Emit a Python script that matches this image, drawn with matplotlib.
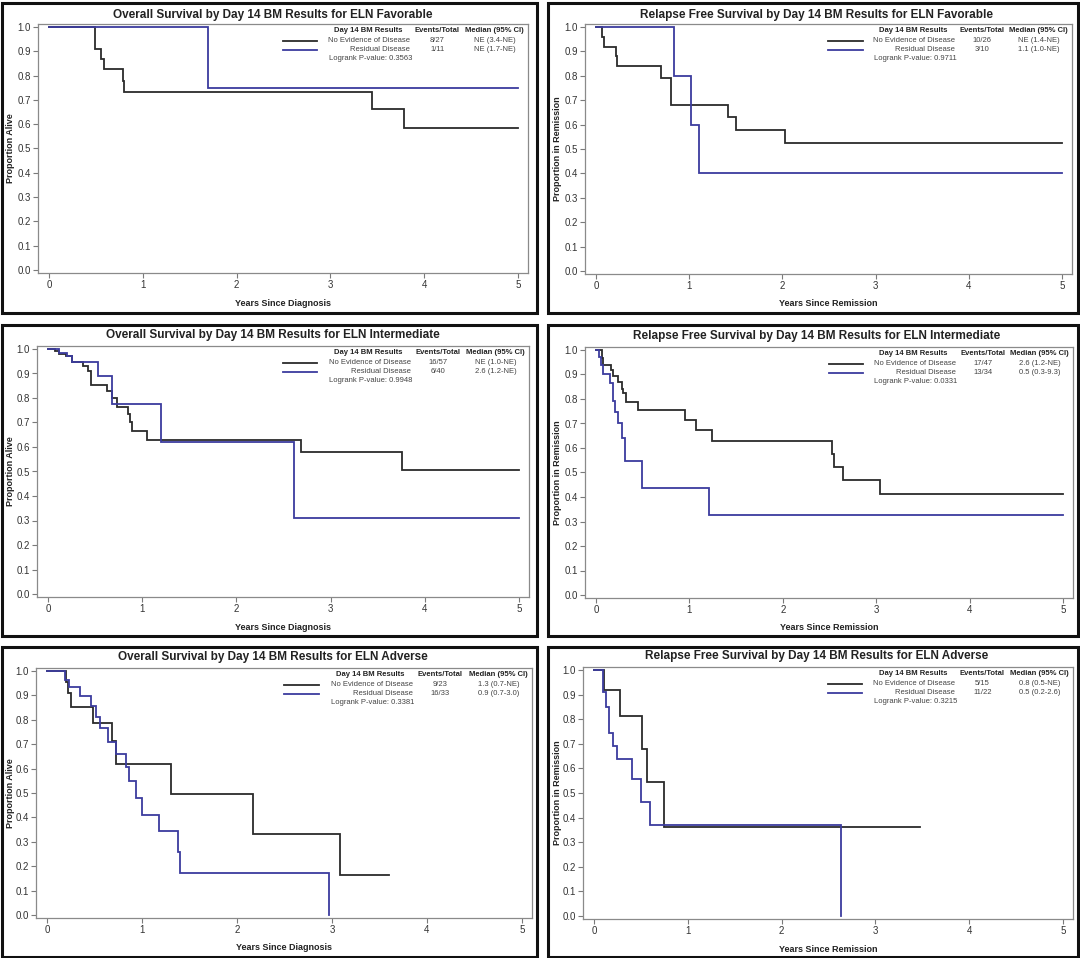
import matplotlib
matplotlib.use('Agg')
import matplotlib.pyplot as plt
from matplotlib.patches import Rectangle

plt.rcParams['font.family'] = ['Liberation Sans', 'DejaVu Sans']

W, H = 1080, 958

# ---- data (times in years, survival proportion) ----
titles = [
    'Overall Survival by Day 14 BM Results for ELN Favorable',
    'Relapse Free Survival by Day 14 BM Results for ELN Favorable',
    'Overall Survival by Day 14 BM Results for ELN Intermediate',
    'Relapse Free Survival by Day 14 BM Results for ELN Intermediate',
    'Overall Survival by Day 14 BM Results for ELN Adverse',
    'Relapse Free Survival by Day 14 BM Results for ELN Adverse',
]
xlabels = ['Years Since Diagnosis', 'Years Since Remission'] * 3
ylabels = ['Proportion Alive', 'Proportion in Remission'] * 3
groups = ['No Evidence of Disease', 'Residual Disease']
events = [['8/27', '1/11'], ['10/26', '3/10'], ['16/57', '6/40'],
          ['17/47', '13/34'], ['9/23', '16/33'], ['5/15', '11/22']]
medians = [['NE (3.4-NE)', 'NE (1.7-NE)'], ['NE (1.4-NE)', '1.1 (1.0-NE)'],
           ['NE (1.0-NE)', '2.6 (1.2-NE)'], ['2.6 (1.2-NE)', '0.5 (0.3-9.3)'],
           ['1.3 (0.7-NE)', '0.9 (0.7-3.0)'], ['0.8 (0.5-NE)', '0.5 (0.2-2.6)']]
pvalues = ['0.3563', '0.9711', '0.9948', '0.0331', '0.3381', '0.3215']

# OS favorable
os_fav_ned_t = [0, 0.49, 0.555, 0.586, 0.79, 0.80, 3.44, 3.78, 5.0]
os_fav_ned_s = [1, 0.911, 0.867, 0.826, 0.779, 0.734, 0.661, 0.586, 0.586]
os_fav_rd_t = [0, 1.69, 5.0]
os_fav_rd_s = [1, 0.75, 0.75]
# RFS favorable
rfs_fav_ned_t = [0, 0.06, 0.086, 0.21, 0.23, 0.70, 0.80, 1.42, 1.50, 2.03, 5.0]
rfs_fav_ned_s = [1, 0.96, 0.92, 0.88, 0.84, 0.79, 0.68, 0.63, 0.577, 0.524, 0.524]
rfs_fav_rd_t = [0, 0.84, 1.02, 1.10, 5.0]
rfs_fav_rd_s = [1, 0.80, 0.60, 0.40, 0.40]
# OS intermediate
os_int_ned_t = [0, 0.07, 0.12, 0.19, 0.25, 0.37, 0.42, 0.46, 0.63, 0.68, 0.73,
                0.85, 0.87, 0.89, 1.05, 2.69, 3.76, 5.0]
os_int_ned_s = [1, 0.99, 0.98, 0.97, 0.945, 0.93, 0.91, 0.855, 0.83, 0.80, 0.765,
                0.735, 0.70, 0.665, 0.63, 0.578, 0.506, 0.506]
os_int_rd_t = [0, 0.12, 0.20, 0.25, 0.53, 0.68, 1.20, 2.61, 5.0]
os_int_rd_s = [1, 0.985, 0.97, 0.945, 0.888, 0.775, 0.622, 0.311, 0.311]
# RFS intermediate
rfs_int_ned_t = [0, 0.06, 0.08, 0.157, 0.186, 0.24, 0.275, 0.29, 0.317, 0.45,
                 0.95, 1.07, 1.24, 2.525, 2.55, 2.64, 3.04, 5.0]
rfs_int_ned_s = [1, 0.966, 0.939, 0.918, 0.894, 0.87, 0.84, 0.823, 0.789, 0.755,
                 0.714, 0.673, 0.627, 0.575, 0.524, 0.469, 0.412, 0.412]
rfs_int_rd_t = [0, 0.03, 0.05, 0.07, 0.15, 0.18, 0.20, 0.24, 0.28, 0.31, 0.49, 1.21, 5.0]
rfs_int_rd_s = [1, 0.97, 0.94, 0.90, 0.865, 0.79, 0.745, 0.70, 0.64, 0.547, 0.437, 0.327, 0.327]
# OS adverse
os_adv_ned_t = [0, 0.20, 0.22, 0.25, 0.48, 0.68, 0.725, 1.307, 2.17, 3.08, 3.6]
os_adv_ned_s = [1, 0.953, 0.909, 0.853, 0.787, 0.715, 0.62, 0.497, 0.331, 0.165, 0.165]
os_adv_rd_t = [0, 0.19, 0.23, 0.35, 0.46, 0.52, 0.56, 0.64, 0.73, 0.83, 0.86,
               0.94, 1.0, 1.18, 1.375, 1.40, 2.97]
os_adv_rd_s = [1, 0.965, 0.933, 0.897, 0.856, 0.81, 0.765, 0.71, 0.66, 0.605, 0.55,
               0.48, 0.41, 0.345, 0.26, 0.173, 0.0]
# RFS adverse
rfs_adv_ned_t = [0, 0.108, 0.28, 0.51, 0.56, 0.75, 3.48]
rfs_adv_ned_s = [1, 0.917, 0.815, 0.678, 0.543, 0.362, 0.362]
rfs_adv_rd_t = [0, 0.10, 0.13, 0.16, 0.20, 0.24, 0.41, 0.50, 0.60, 2.63]
rfs_adv_rd_s = [1, 0.91, 0.85, 0.745, 0.69, 0.637, 0.555, 0.465, 0.37, 0.0]

curves = [
    ((os_fav_ned_t, os_fav_ned_s), (os_fav_rd_t, os_fav_rd_s)),
    ((rfs_fav_ned_t, rfs_fav_ned_s), (rfs_fav_rd_t, rfs_fav_rd_s)),
    ((os_int_ned_t, os_int_ned_s), (os_int_rd_t, os_int_rd_s)),
    ((rfs_int_ned_t, rfs_int_ned_s), (rfs_int_rd_t, rfs_int_rd_s)),
    ((os_adv_ned_t, os_adv_ned_s), (os_adv_rd_t, os_adv_rd_s)),
    ((rfs_adv_ned_t, rfs_adv_ned_s), (rfs_adv_rd_t, rfs_adv_rd_s)),
]

colors = ['#2b2b2b', '#3c3c9e']

# ---- layout in pixels ----
# (x of tick 0, x of tick 5, y of 1.0, y of 0.0)
tickpx = [(49, 518, 27, 270), (596, 1062, 27, 271),
          (48, 519, 349, 594), (596, 1063, 350, 595),
          (47, 522, 671, 915), (594, 1063, 670, 916)]
boxes = [(2, 3, 537, 313), (548, 3, 1078, 313),
         (2, 325, 537, 636), (548, 325, 1078, 636),
         (2, 647, 537, 957), (548, 647, 1078, 957)]
title_y = [15, 15, 335, 336, 657, 656]
xlab_y = [303, 304, 627, 628, 948, 950]
ylab_x = [10.5, 557, 10.5, 557, 10.5, 557]

fig = plt.figure(figsize=(W / 100, H / 100), dpi=100)

for i in range(6):
    x0, x5, y1, y0 = tickpx[i]
    ux = (x5 - x0) / 5.0
    uy = (y0 - y1)
    left = x0 - 0.12 * ux
    right = x5 + 0.11 * ux
    top = y1 - 0.012 * uy
    bottom = y0 + 0.012 * uy
    ax = fig.add_axes([left / W, 1 - bottom / H, (right - left) / W, (bottom - top) / H])
    ax.set_xlim(-0.12, 5.11)
    ax.set_ylim(-0.012, 1.012)

    for (t, s), c in zip(curves[i], colors):
        ax.step(t, s, where='post', color=c, lw=1.3, solid_joinstyle='miter')

    ax.set_xticks(range(6))
    ax.set_yticks([k / 10 for k in range(11)])
    ax.set_yticklabels(['%.1f' % (k / 10) for k in range(11)])
    ax.tick_params(labelsize=7, length=3.5, width=0.8, color='#7a7a7a',
                   labelcolor='#333333', pad=1.5)
    for sp in ax.spines.values():
        sp.set_color('#8a8a8a')
        sp.set_linewidth(0.9)

    # legend table
    fs = 5.5
    ax.text(3.40, 0.984, 'Day 14 BM Results', fontsize=fs, fontweight='bold',
            ha='center', va='center', color='#222222')
    ax.text(4.14, 0.984, 'Events/Total', fontsize=fs, fontweight='bold',
            ha='center', va='center', color='#222222')
    ax.text(4.75, 0.984, 'Median (95% CI)', fontsize=fs, fontweight='bold',
            ha='center', va='center', color='#222222')
    for j, yy in enumerate([0.944, 0.907]):
        ax.plot([2.49, 2.86], [yy, yy], color=colors[j], lw=1.3)
        ax.text(3.85, yy, groups[j], fontsize=fs, ha='right', va='center', color='#444444')
        ax.text(4.14, yy, events[i][j], fontsize=fs, ha='center', va='center', color='#444444')
        ax.text(4.75, yy, medians[i][j], fontsize=fs, ha='center', va='center', color='#444444')
    ax.text(3.87, 0.870, 'Logrank P-value: ' + pvalues[i], fontsize=fs,
            ha='right', va='center', color='#444444')

    # titles and axis labels
    bl, bt, br, bb = boxes[i]
    fig.text((bl + br) / 2 / W + 0.003, 1 - title_y[i] / H, titles[i], fontsize=8.5,
             fontweight='bold', ha='center', va='center', color='#222222')
    fig.text((left + right) / 2 / W, 1 - xlab_y[i] / H, xlabels[i], fontsize=6.5,
             fontweight='bold', ha='center', va='center', color='#222222')
    fig.text(ylab_x[i] / W, 1 - (top + bottom) / 2 / H, ylabels[i], fontsize=6.5,
             fontweight='bold', ha='center', va='center', rotation=90, color='#222222')

    fig.add_artist(Rectangle((bl / W, 1 - bb / H), (br - bl) / W, (bb - bt) / H,
                             transform=fig.transFigure, fill=False,
                             edgecolor='#111111', lw=2.2))

fig.savefig('out.png', dpi=100, facecolor='white')
